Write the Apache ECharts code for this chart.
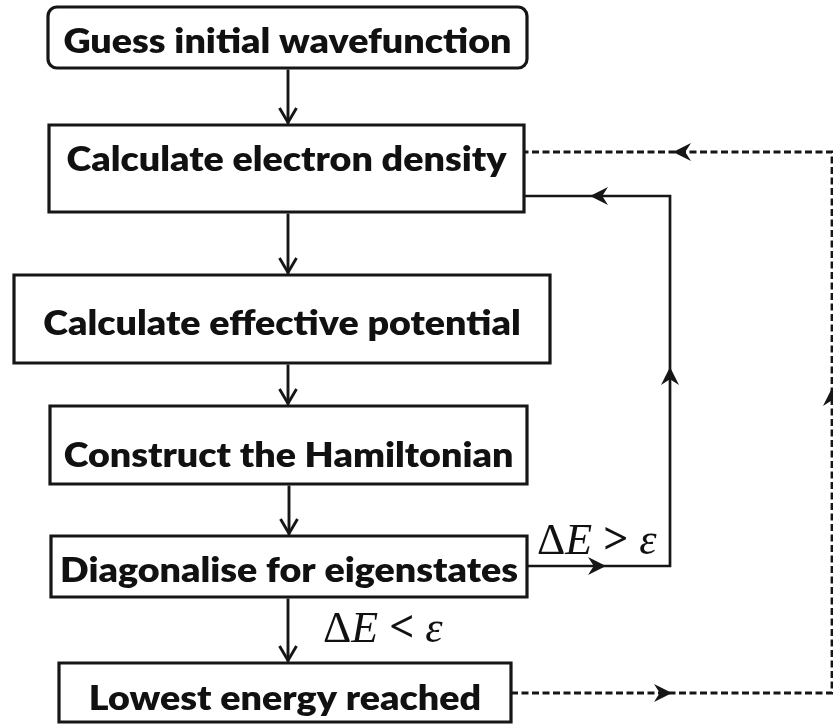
<!DOCTYPE html>
<html><head><meta charset="utf-8">
<script src="https://cdn.jsdelivr.net/npm/echarts@6/dist/echarts.min.js"></script>
<style>html,body{margin:0;padding:0;background:#fff}#c{width:833px;height:724px}</style>
</head><body><div id="c"></div><script>
// ---- flowchart content ----
const steps = [
  'Guess initial wavefunction',
  'Calculate electron density',
  'Calculate effective potential',
  'Construct the Hamiltonian',
  'Diagonalise for eigenstates',
  'Lowest energy reached'
];
// box extents in layout units (0..833 x 0..724)
const boxLeft   = [48, 49, 14, 50, 51, 59];
const boxRight  = [527, 524, 550, 527, 527, 511];
const boxTop    = [7, 125, 275, 406, 536, 663];
const boxBottom = [68, 212, 363, 484, 597, 722];
const textMidY  = [40, 158, 322, 454, 569, 697];
const flowX     = [288, 288, 288, 289, 288];
// feedback loops
const loopSolid = [[527, 566], [670, 566], [670, 196], [524, 196]];
const loopSolidArrows = [[606, 566, 1, 0], [670, 367, 0, -1], [590, 196, -1, 0]];
const loopDashed = [[511, 693], [832, 693], [832, 152], [524, 152]];
const loopDashedArrows = [[672, 693, 1, 0], [832, 388, 0, -1], [673, 152, -1, 0]];
// condition labels
const conditionOp = ['>', '<'];
const conditionX = [537, 323];
const conditionY = [540, 628];

const INK = '#161616';
const FONT_PX = 34;
const mc = document.createElement('canvas').getContext('2d');
mc.font = '800 ' + FONT_PX + 'px Lato';
const textScaleX = 440 / mc.measureText(steps[1]).width;

function stealth(api, x, y, dx, dy, len, half) {
  const px = -dy, py = dx;
  const bx = x - dx * len, by = y - dy * len;
  const pts = [[x, y], [bx + px * half, by + py * half], [x - dx * len * 0.68, y - dy * len * 0.68], [bx - px * half, by - py * half]];
  return pts.map(p => api.coord(p));
}

const chart = echarts.init(document.getElementById('c'), null, {renderer: 'canvas'});
chart.setOption({
  animation: false,
  backgroundColor: '#fff',
  grid: {left: 0, right: 0, top: 0, bottom: 0},
  xAxis: {type: 'value', min: 0, max: 833, show: false},
  yAxis: {type: 'value', min: 0, max: 724, inverse: true, show: false},
  series: [
    {
      type: 'custom', name: 'boxes',
      data: steps.map((s, i) => [boxLeft[i], boxTop[i], boxRight[i], boxBottom[i], textMidY[i], i]),
      renderItem: function (params, api) {
        const i = api.value(5);
        const p0 = api.coord([api.value(0), api.value(1)]);
        const p1 = api.coord([api.value(2), api.value(3)]);
        const pc = api.coord([(api.value(0) + api.value(2)) / 2, api.value(4)]);
        return {
          type: 'group',
          children: [
            {type: 'rect', shape: {x: p0[0], y: p0[1], width: p1[0] - p0[0], height: p1[1] - p0[1], r: i === 0 ? 9 : 0},
             style: {fill: '#fff', stroke: INK, lineWidth: 3.2}},
            {type: 'text', x: pc[0], y: pc[1] + 2, scaleX: textScaleX,
             style: {text: steps[i], font: '800 ' + FONT_PX + 'px Lato', fill: '#111', align: 'center', verticalAlign: 'middle'}}
          ]
        };
      }
    },
    {
      type: 'custom', name: 'flow',
      data: flowX.map((x, i) => [x, boxBottom[i], boxTop[i + 1]]),
      renderItem: function (params, api) {
        const a = api.coord([api.value(0), api.value(1)]);
        const b = api.coord([api.value(0), api.value(2)]);
        return {
          type: 'group',
          children: [
            {type: 'line', shape: {x1: a[0], y1: a[1] + 1.5, x2: b[0], y2: b[1] - 1.5}, style: {stroke: INK, lineWidth: 2.9}},
            {type: 'polyline', shape: {points: [[b[0] - 8.5, b[1] - 17], [b[0], b[1] - 2.5], [b[0] + 8.5, b[1] - 17]]},
             style: {stroke: INK, lineWidth: 2.9, fill: null}}
          ]
        };
      }
    },
    {
      type: 'custom', name: 'loops',
      data: [[0], [1]],
      renderItem: function (params, api) {
        const k = api.value(0);
        const path = k === 0 ? loopSolid : loopDashed;
        const arrows = k === 0 ? loopSolidArrows : loopDashedArrows;
        const children = [{
          type: 'polyline', shape: {points: path.map(p => api.coord(p))},
          style: {stroke: INK, lineWidth: k === 0 ? 2.7 : 2.8, fill: null, lineDash: k === 0 ? null : [7, 3.5]}
        }];
        arrows.forEach(a => {
          children.push({type: 'polygon', shape: {points: stealth(api, a[0], a[1], a[2], a[3], 18, 9)}, style: {fill: INK}});
        });
        return {type: 'group', children: children};
      }
    },
    {
      type: 'custom', name: 'conditions',
      data: conditionOp.map((op, i) => [conditionX[i], conditionY[i], i]),
      renderItem: function (params, api) {
        const i = api.value(2);
        const p = api.coord([api.value(0), api.value(1)]);
        return {
          type: 'text', x: p[0], y: p[1] + 2,
          style: {
            text: '{n|Δ}{i|E}{o| ' + conditionOp[i] + ' }{i|ε}',
            align: 'left', verticalAlign: 'middle',
            rich: {
              n: {font: '44px "Liberation Serif"', fill: '#111'},
              i: {font: 'italic 44px "Liberation Serif"', fill: '#111'},
              o: {font: 'bold 44px "Liberation Serif"', fill: '#111'}
            }
          }
        };
      }
    }
  ]
});
</script></body></html>
